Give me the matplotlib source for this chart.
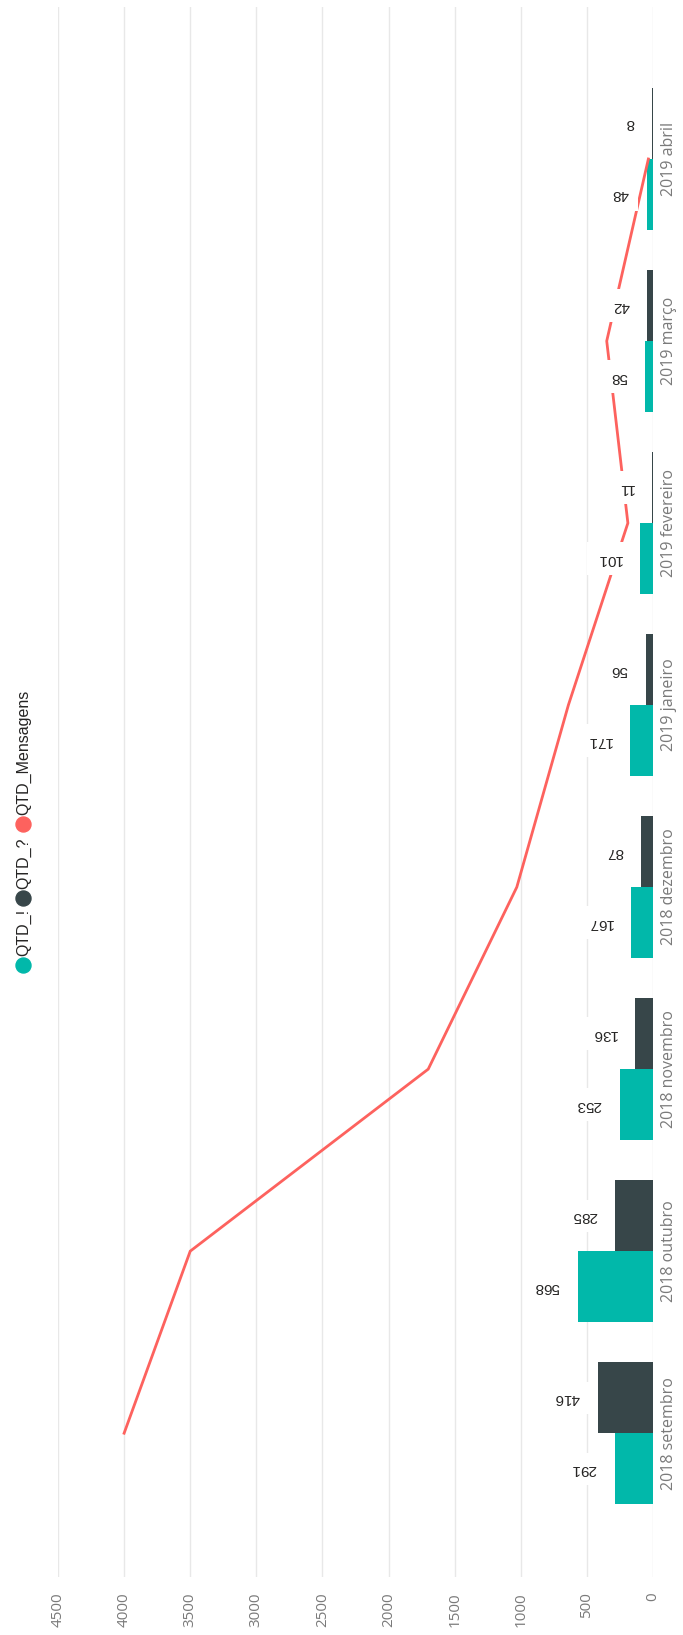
import matplotlib
matplotlib.use("Agg")
import matplotlib.pyplot as plt
from matplotlib import font_manager
import numpy as np

# -----------------------------
# Data (chart is drawn rotated, as in the reference)
# -----------------------------
categories = ["2018 setembro", "2018 outubro", "2018 novembro", "2018 dezembro",
              "2019 janeiro", "2019 fevereiro", "2019 março", "2019 abril"]
qtd_excl = [291, 568, 253, 167, 171, 101, 58, 48]
qtd_quest = [416, 285, 136, 87, 56, 11, 42, 8]
qtd_msgs = [4000, 3500, 1700, 1030, 640, 190, 350, 35]
xticks = [0, 500, 1000, 1500, 2000, 2500, 3000, 3500, 4000, 4500]

TEAL = "#01B8AA"
DARK = "#374649"
RED = "#FD625E"
LABEL_COLOR = "#252423"
AXIS_COLOR = "#7A7A7A"

installed = {f.name for f in font_manager.fontManager.ttflist}
NARROW = "Liberation Sans Narrow" if "Liberation Sans Narrow" in installed else "Liberation Sans"

W, H = 683, 1635
fig = plt.figure(figsize=(W / 100, H / 100), dpi=100)

# axes placed in pixel terms
left_px, right_px, top_px, bottom_px = 58, 653, 7, 1577
ax = fig.add_axes([left_px / W, 1 - bottom_px / H,
                   (right_px - left_px) / W, (bottom_px - top_px) / H])

y = np.arange(len(categories))
bw = 0.39

ax.barh(y - bw / 2, qtd_excl, height=bw, color=TEAL, zorder=2)
ax.barh(y + bw / 2, qtd_quest, height=bw, color=DARK, zorder=2)
ax.plot(qtd_msgs, y, color=RED, lw=2.0, zorder=3, solid_joinstyle="miter")

# data labels (upside down, as in the rotated picture)
label_size = 13 if NARROW == "Liberation Sans Narrow" else 11
for vals, off in [(qtd_excl, -bw / 2), (qtd_quest, bw / 2)]:
    for yi, v in zip(y, vals):
        ax.annotate(str(v), xy=(v, yi + off), xytext=(-13, 0),
                    textcoords="offset points", rotation=180,
                    ha="right", va="center", fontsize=label_size,
                    family=[NARROW, "DejaVu Sans"], color=LABEL_COLOR,
                    zorder=5,
                    bbox=dict(boxstyle="square,pad=0.6", fc="white", ec="none"))

ax.set_xlim(4500, 0)
ax.set_ylim(-0.79, len(categories) - 1 + 0.835)
ax.set_xticks(xticks)
ax.set_xticklabels([str(t) for t in xticks], rotation=90,
                   family=["Open Sans", "DejaVu Sans"], fontsize=11,
                   color=AXIS_COLOR)
ax.tick_params(axis="x", length=0, pad=11)

ax.yaxis.tick_right()
ax.set_yticks(y)
ax.set_yticklabels(categories, rotation=90, va="center",
                   family=["Open Sans", "DejaVu Sans"], fontsize=11.5,
                   color=AXIS_COLOR)
ax.tick_params(axis="y", length=0, pad=6)

ax.grid(axis="x", color="#E8E8E8", lw=1, zorder=0)
ax.set_axisbelow(True)
for s in ax.spines.values():
    s.set_visible(False)

# -----------------------------
# Legend (rotated, drawn by hand)
# -----------------------------
leg_x = 23 / W
legend_items = [("QTD_!", TEAL, 965, 956),
                ("QTD_?", DARK, 898, 889),
                ("QTD_Mensagens", RED, 824, 815)]
for name, col, cy, ty in legend_items:
    fig.add_artist(plt.Line2D([leg_x], [1 - cy / H], marker="o", markersize=10.8,
                              color=col, linestyle="none",
                              transform=fig.transFigure))
    fig.text(leg_x + 1 / W, 1 - ty / H, name, rotation=90, ha="center",
             va="bottom", fontsize=11.5, color=LABEL_COLOR,
             family=["Liberation Sans", "DejaVu Sans"])

fig.savefig("out.png", dpi=100, facecolor="white")
